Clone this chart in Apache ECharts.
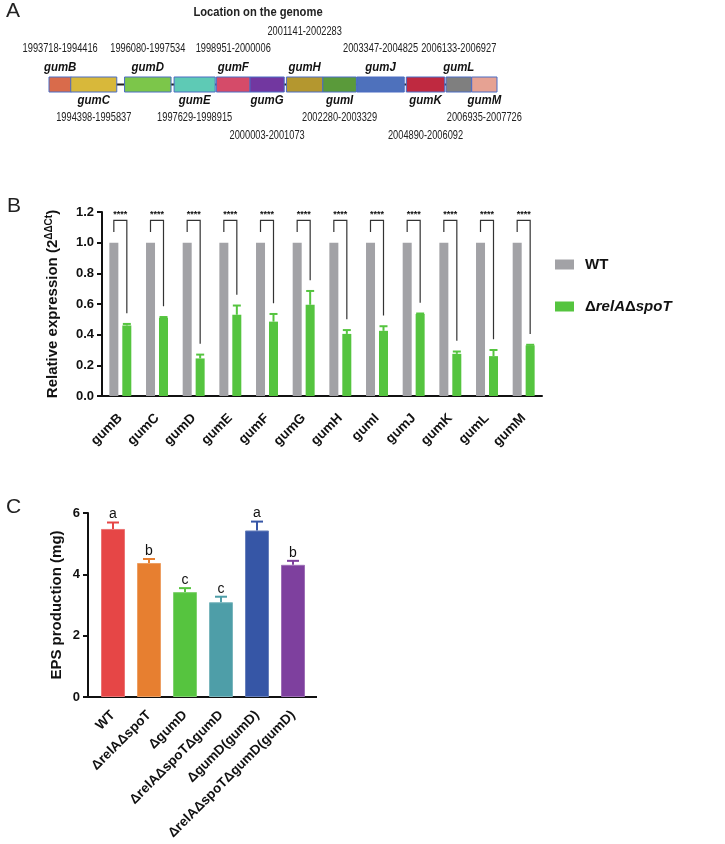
<!DOCTYPE html>
<html>
<head>
<meta charset="utf-8">
<script src="https://cdn.jsdelivr.net/npm/echarts@6/dist/echarts.min.js"></script>
<style>
  html, body { margin: 0; padding: 0; background: #fff; }
  #chart { width: 725px; height: 844px; }
</style>
</head>
<body>
<div id="chart"></div>
<script>
// ---- A: gum cluster on the genome ----
const geneNames = ['gumB', 'gumC', 'gumD', 'gumE', 'gumF', 'gumG', 'gumH', 'gumI', 'gumJ', 'gumK', 'gumL', 'gumM']
const geneStart = [1993718, 1994398, 1996080, 1997629, 1998951, 2000003, 2001141, 2002280, 2003347, 2004890, 2006133, 2006935]
const geneEnd = [1994416, 1995837, 1997534, 1998915, 2000006, 2001073, 2002283, 2003329, 2004825, 2006092, 2006927, 2007726]

// ---- B: qRT-PCR ----
const qpcrGenes = ['gumB', 'gumC', 'gumD', 'gumE', 'gumF', 'gumG', 'gumH', 'gumI', 'gumJ', 'gumK', 'gumL', 'gumM']
const wtExpr = [1, 1, 1, 1, 1, 1, 1, 1, 1, 1, 1, 1]
const mutExpr = [0.46, 0.51, 0.245, 0.53, 0.485, 0.595, 0.405, 0.425, 0.535, 0.275, 0.26, 0.33]
const mutErr = [0.01, 0.005, 0.025, 0.06, 0.05, 0.09, 0.025, 0.03, 0.003, 0.015, 0.04, 0.004]
const sigMarks = ['****', '****', '****', '****', '****', '****', '****', '****', '****', '****', '****', '****']

// ---- C: EPS production ----
const strains = ['WT', 'ΔrelAΔspoT', 'ΔgumD', 'ΔrelAΔspoTΔgumD', 'ΔgumD(gumD)', 'ΔrelAΔspoTΔgumD(gumD)']
const epsMean = [5.48, 4.37, 3.42, 3.09, 5.43, 4.31]
const epsErr = [0.21, 0.13, 0.13, 0.18, 0.29, 0.13]
const epsGroup = ['a', 'b', 'c', 'c', 'a', 'b']

const geneColors = ['#d96b4b', '#d8b83a', '#7cc64a', '#5ecab5', '#d54b69', '#7237a0',
  '#b4972f', '#5a9a3a', '#4e71bc', '#bf2940', '#7f7f7f', '#e6a293']
const strainColors = ['#e64646', '#e77f30', '#56c43f', '#4e9ea8', '#3656a6', '#7e409e']
const GREY = '#a2a2a6'
const GREEN = '#55c43f'
const FONT = 'Liberation Sans, Arial, sans-serif'

const chart = echarts.init(document.getElementById('chart'), null, { renderer: 'canvas' })

// genes whose coordinate text is pushed one row further out
const farLabels = ['gumG', 'gumH', 'gumK']

function panelLetter(t, x, y) {
  return { type: 'text', left: x, top: y, style: { text: t, font: '300 21px ' + FONT, fill: '#222' } }
}

chart.setOption({
  animation: false,
  textStyle: { fontFamily: FONT },
  graphic: [
    panelLetter('A', 6, 1),
    panelLetter('B', 7, 196),
    panelLetter('C', 6, 497),
    {
      type: 'text', x: 258, y: 12, scaleX: 0.86,
      style: { text: 'Location on the genome', font: 'bold 13px ' + FONT, fill: '#222', align: 'center', verticalAlign: 'middle' }
    },
    {
      type: 'line', shape: { x1: 87, y1: 697, x2: 317, y2: 697 },
      style: { stroke: '#111', lineWidth: 2 }
    }
  ],
  legend: {
    data: ['WT', 'ΔrelAΔspoT'],
    orient: 'vertical',
    left: 555,
    top: 257,
    padding: 0,
    icon: 'rect',
    itemWidth: 19,
    itemHeight: 10,
    itemGap: 27,
    formatter: function (name) {
      if (name === 'WT') return '{n|WT}'
      return '{n|Δ}{i|relA}{n|Δ}{i|spoT}'
    },
    textStyle: {
      padding: [0, 0, 0, 6],
      rich: {
        n: { fontSize: 15, fontWeight: 'bold', color: '#111' },
        i: { fontSize: 15, fontWeight: 'bold', fontStyle: 'italic', color: '#111' }
      }
    }
  },
  grid: [
    { left: 49, top: 77, width: 448, height: 15 },
    { left: 102, top: 212, width: 440, height: 184 },
    { left: 95, top: 513, width: 216, height: 184 }
  ],
  xAxis: [
    { gridIndex: 0, type: 'value', min: geneStart[0], max: geneEnd[geneEnd.length - 1], show: false },
    {
      gridIndex: 1, type: 'category', data: qpcrGenes,
      axisLine: { lineStyle: { color: '#111', width: 2 } },
      axisTick: { alignWithLabel: true, length: 7, lineStyle: { color: '#111', width: 2 } },
      axisLabel: { rotate: 45, interval: 0, margin: 20, fontSize: 13.5, fontWeight: 'bold', color: '#111' }
    },
    {
      gridIndex: 2, type: 'category', data: strains,
      axisLine: { show: false },
      axisTick: { alignWithLabel: true, length: 7, lineStyle: { color: '#111', width: 2 } },
      axisLabel: { rotate: 45, interval: 0, margin: 16, fontSize: 13.5, fontWeight: 'bold', color: '#111' }
    }
  ],
  yAxis: [
    { gridIndex: 0, type: 'value', min: 0, max: 1, show: false },
    {
      gridIndex: 1, type: 'value', min: 0, max: 1.2, interval: 0.2,
      name: 'Relative expression (2{s|ΔΔCt})',
      nameLocation: 'middle',
      nameGap: 40,
      nameTextStyle: {
        fontSize: 15, fontWeight: 'bold', color: '#111', lineHeight: 18,
        rich: { s: { fontSize: 10, fontWeight: 'bold', color: '#111', verticalAlign: 'top', lineHeight: 18 } }
      },
      axisLine: { show: true, lineStyle: { color: '#111', width: 2 } },
      axisTick: { show: true, length: 5, lineStyle: { color: '#111', width: 2 } },
      axisLabel: { fontSize: 13, fontWeight: 'bold', color: '#111', formatter: v => v.toFixed(1) },
      splitLine: { show: false }
    },
    {
      gridIndex: 2, type: 'value', min: 0, max: 6, interval: 2, offset: 7,
      name: 'EPS production (mg)',
      nameLocation: 'middle',
      nameGap: 24,
      nameTextStyle: { fontSize: 15, fontWeight: 'bold', color: '#111' },
      axisLine: { show: true, lineStyle: { color: '#111', width: 2 } },
      axisTick: { show: true, length: 5, lineStyle: { color: '#111', width: 2 } },
      axisLabel: { fontSize: 13, fontWeight: 'bold', color: '#111' },
      splitLine: { show: false }
    }
  ],
  series: [
    // A: backbone
    {
      type: 'line', xAxisIndex: 0, yAxisIndex: 0, symbol: 'none', silent: true, z: 1,
      lineStyle: { color: '#222', width: 2 },
      data: [[geneStart[0], 0.5], [geneEnd[geneEnd.length - 1], 0.5]]
    },
    // A: genes
    {
      type: 'custom', xAxisIndex: 0, yAxisIndex: 0, z: 3,
      data: geneNames.map((n, i) => [geneStart[i], geneEnd[i], i]),
      renderItem: function (params, api) {
        const i = api.value(2)
        const p0 = api.coord([api.value(0), 1])
        const p1 = api.coord([api.value(1), 0])
        const cx = (p0[0] + p1[0]) / 2
        const up = i % 2 === 0
        const far = farLabels.indexOf(geneNames[i]) >= 0
        const nameY = up ? p0[1] - 10 : p1[1] + 8
        const coordY = up ? p0[1] - (far ? 45 : 28) : p1[1] + (far ? 44 : 26)
        return {
          type: 'group',
          children: [
            {
              type: 'rect',
              shape: { x: p0[0], y: p0[1], width: p1[0] - p0[0], height: p1[1] - p0[1] },
              style: { fill: geneColors[i], stroke: '#4a6cc4', lineWidth: 1 }
            },
            {
              type: 'text', x: cx, y: nameY, scaleX: 0.88,
              style: { text: geneNames[i], font: 'italic bold 13px ' + FONT, fill: '#111', align: 'center', verticalAlign: 'middle' }
            },
            {
              type: 'text', x: cx, y: coordY, scaleX: 0.74,
              style: { text: geneStart[i] + '-' + geneEnd[i], font: '12.5px ' + FONT, fill: '#222', align: 'center', verticalAlign: 'middle' }
            }
          ]
        }
      }
    },
    // B: bars
    {
      name: 'WT', type: 'bar', xAxisIndex: 1, yAxisIndex: 1,
      barWidth: 9, barGap: '44%',
      itemStyle: { color: GREY },
      data: wtExpr
    },
    {
      name: 'ΔrelAΔspoT', type: 'bar', xAxisIndex: 1, yAxisIndex: 1,
      barWidth: 9, barGap: '44%',
      itemStyle: { color: GREEN },
      data: mutExpr
    },
    // B: error bars
    {
      type: 'custom', xAxisIndex: 1, yAxisIndex: 1, z: 4,
      data: mutExpr.map((v, i) => [i, v, mutErr[i]]),
      renderItem: function (params, api) {
        const b = api.coord([api.value(0), api.value(1)])
        const t = api.coord([api.value(0), api.value(1) + api.value(2)])
        const x = b[0] + 6.5
        return {
          type: 'group',
          children: [
            { type: 'line', shape: { x1: x, y1: b[1], x2: x, y2: t[1] }, style: { stroke: GREEN, lineWidth: 2 } },
            { type: 'line', shape: { x1: x - 4, y1: t[1], x2: x + 4, y2: t[1] }, style: { stroke: GREEN, lineWidth: 2 } }
          ]
        }
      }
    },
    // B: significance brackets
    {
      type: 'custom', xAxisIndex: 1, yAxisIndex: 1, z: 4,
      data: mutExpr.map((v, i) => [i, wtExpr[i], v + mutErr[i]]),
      renderItem: function (params, api) {
        const i = api.value(0)
        const top = api.coord([i, 1.146])
        const l = api.coord([i, api.value(1) + 0.07])
        const r = api.coord([i, api.value(2) + 0.07])
        const s = api.coord([i, 1.2])
        const xl = top[0] - 6.5
        const xr = top[0] + 6.5
        return {
          type: 'group',
          children: [
            {
              type: 'polyline',
              shape: { points: [[xl, l[1]], [xl, top[1]], [xr, top[1]], [xr, r[1]]] },
              style: { stroke: '#333', lineWidth: 1.2, fill: null }
            },
            {
              type: 'text', x: s[0], y: s[1] + 3,
              style: { text: sigMarks[params.dataIndex], font: 'bold 9px ' + FONT, fill: '#111', align: 'center', verticalAlign: 'middle' }
            }
          ]
        }
      }
    },
    // C: bars
    {
      type: 'bar', xAxisIndex: 2, yAxisIndex: 2, barWidth: 24,
      data: epsMean.map((v, i) => ({
        value: v,
        itemStyle: { color: strainColors[i], borderColor: echarts.color.lift(strainColors[i], 0.25), borderWidth: 1 }
      }))
    },
    // C: error bars + group letters
    {
      type: 'custom', xAxisIndex: 2, yAxisIndex: 2, z: 4,
      data: epsMean.map((v, i) => [i, v, epsErr[i]]),
      renderItem: function (params, api) {
        const i = params.dataIndex
        const b = api.coord([api.value(0), api.value(1)])
        const t = api.coord([api.value(0), api.value(1) + api.value(2)])
        const c = strainColors[i]
        return {
          type: 'group',
          children: [
            { type: 'line', shape: { x1: b[0], y1: b[1], x2: b[0], y2: t[1] }, style: { stroke: c, lineWidth: 2 } },
            { type: 'line', shape: { x1: b[0] - 6, y1: t[1], x2: b[0] + 6, y2: t[1] }, style: { stroke: c, lineWidth: 2 } },
            {
              type: 'text', x: b[0], y: t[1] - 8,
              style: { text: epsGroup[i], font: '14px ' + FONT, fill: '#111', align: 'center', verticalAlign: 'middle' }
            }
          ]
        }
      }
    }
  ]
})
</script>
</body>
</html>
